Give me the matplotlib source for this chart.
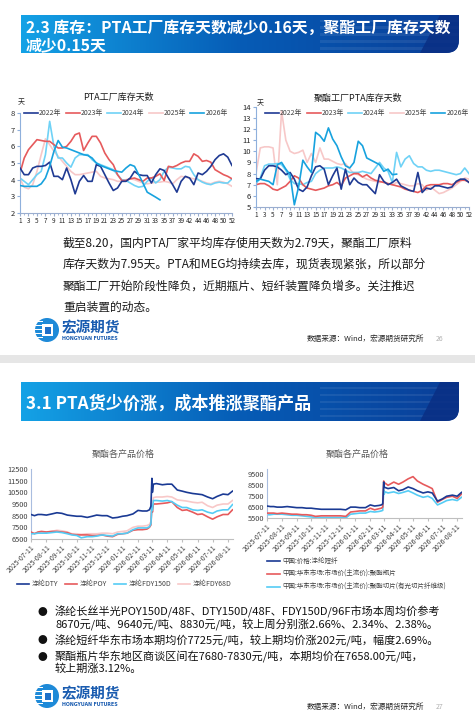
import numpy as np
import pandas as pd
import matplotlib
matplotlib.use("Agg")
import matplotlib.pyplot as plt
import matplotlib.dates as mdates
from matplotlib.path import Path
from matplotlib.patches import PathPatch, Rectangle, Circle, Polygon

plt.rcParams['font.family'] = ['Noto Sans CJK SC', 'DejaVu Sans']

# -----------------------------
# data: weekly inventory days
# -----------------------------
weeks = list(range(1, 41)) + list(range(42, 53))
years = ["2022年", "2023年", "2024年", "2025年", "2026年"]

pta_2022 = [4.7, 4.3, 4.3, 4.7, 4.8, 4.8, 4.85, 5.05, 4.2, 4.2,
            4.0, 4.7, 4.0, 3.15, 3.9, 4.25, 3.9, 3.9, 4.9, 4.8,
            4.3, 3.8, 3.35, 3.5, 3.9, 3.9, 4.1, 4.5, 4.3, 4.25,
            4.25, 3.8, 4.3, 4.65, 4.55, 4.1, 3.7, 3.25, 3.9, 4.2,
            4.1, 3.7, 4.4, 4.3, 4.5, 4.8, 5.2, 5.45, 5.55, 5.35, 4.85]
pta_2023 = [4.4, 5.3, 5.8, 6.1, 6.4, 6.35, 6.3, 6.3, 6.1, 5.9,
            5.9, 6.0, 6.3, 6.7, 6.8, 5.75, 6.2, 6.6, 6.6, 6.2,
            5.6, 5.2, 4.9, 4.3, 3.95, 3.95, 4.05, 4.1, 4.0, 3.9,
            4.1, 4.1, 4.2, 4.35, 3.95, 4.8, 4.75, 4.85, 5.0, 5.1,
            5.1, 5.55, 5.4, 5.1, 5.15, 5.05, 4.6, 4.45, 4.3, 4.2, 4.05]
pta_2024 = [4.1, 3.9, 3.7, 4.0, 4.3, 4.5, 5.5, 7.5, 6.0, 5.3,
            5.3, 5.0, 4.75, 5.3, 5.5, 5.5, 5.5, 5.2, 5.0, 4.9,
            4.8, 4.7, 4.6, 4.3, 4.0, 3.95, 3.8, 3.65, 3.55, 3.6,
            3.9, 4.1, 3.8, 4.0, 4.5, 4.75, 4.7, 4.65, 4.65, 4.8,
            4.75, 4.3, 4.0, 3.85, 3.75, 3.7, 3.8, 3.85, 3.8, 3.8, 4.05]
pta_2025 = [4.05, 3.55, 3.45, 3.7, 4.5, 5.5, 6.45, 6.1, 5.7, 5.4,
            5.1, 4.8, 4.5, 4.3, 4.3, 4.35, 4.4, 4.45, 4.5, 4.2,
            4.1, 4.05, 4.0, 3.9, 3.9, 4.0, 4.05, 4.0, 3.9, 3.8,
            3.75, 3.8, 3.85, 3.85, 3.9, 3.85, 3.75, 4.0, 4.2, 4.15,
            4.1, 4.05, 4.0, 3.9, 3.8, 3.75, 3.85, 3.9, 3.85, 3.75, 3.6]
pta_2026 = [3.65, 3.6, 3.6, 3.6, 3.6, 3.75, 4.1, 4.8, 5.7, 6.35,
            5.95, 5.9, 5.8, 5.7, 5.6, 5.5, 5.45, 5.3, 5.0, 4.85,
            4.75, 4.65, 4.55, 4.5, 4.45, 4.7, 4.9, 4.8, 4.3, 3.8,
            3.25, 3.1, 2.95, 2.79]

poly_2022 = [7.55, 7.5, 8.3, 8.7, 8.7, 8.6, 8.3, 7.9, 8.1, 7.5,
             6.6, 6.4, 6.8, 7.8, 8.6, 8.7, 8.4, 7.0, 7.8, 8.5,
             6.6, 8.4, 7.0, 7.6, 7.2, 7.0, 7.0, 6.6, 6.2, 7.9,
             7.3, 7.0, 7.2, 7.5, 6.9, 6.7, 6.5, 6.4, 8.1, 6.3,
             6.7, 6.6, 6.9, 6.9, 6.8, 6.7, 6.8, 7.3, 7.5, 7.5, 7.2]
poly_2023 = [7.0, 7.1, 7.1, 6.9, 6.6, 6.5, 6.7, 6.9, 7.3, 7.8,
             7.6, 7.0, 6.7, 6.6, 6.5, 6.6, 6.7, 6.9, 7.0, 7.2,
             6.9, 7.6, 7.8, 8.0, 8.0, 7.7, 7.9, 7.6, 7.4, 7.3,
             7.2, 7.1, 7.0, 6.9, 6.8, 6.6, 6.5, 6.4, 6.3, 6.5,
             6.9, 7.0, 7.0, 7.0, 7.1, 7.1, 7.0, 7.2, 7.4, 7.4, 7.25]
poly_2024 = [7.1, 7.6, 8.7, 8.85, 8.85, 8.9, 8.8, 8.3, 7.5, 7.1,
             7.1, 7.0, 7.2, 7.3, 8.0, 8.3, 8.5, 8.5, 8.5, 8.6,
             8.5, 8.3, 8.1, 8.1, 8.1, 8.2, 8.1, 8.0, 8.5, 9.0,
             8.5, 8.2, 7.2, 9.9, 8.6, 9.3, 9.6, 8.9, 8.6, 8.6,
             8.3, 8.2, 8.3, 8.3, 8.2, 8.1, 8.0, 7.9, 8.0, 8.5, 8.0]
poly_2025 = [8.0, 10.3, 10.4, 10.4, 10.3, 7.0, 13.6, 11.0, 10.0, 9.8,
             9.9, 10.1, 9.0, 9.8, 9.0, 10.3, 9.3, 9.3, 9.1, 8.9,
             8.8, 8.9, 8.4, 8.0, 7.9, 7.7, 7.5, 7.4, 7.3, 7.2,
             7.3, 7.1, 7.0, 7.2, 7.1, 7.0, 6.9, 6.9, 7.1, 7.0,
             6.5, 6.8, 6.5, 6.2, 6.3, 6.5, 6.7, 7.0, 7.3, 7.6, 7.5]
poly_2026 = [7.3, 7.5, 7.4, 7.3, 7.0, 8.8, 9.0, 8.4, 7.9, 5.2,
             6.8, 9.2, 8.6, 8.1, 11.7, 11.4, 10.9, 12.1, 11.1, 10.5,
             9.5, 8.7, 8.5, 9.0, 10.9, 10.5, 9.4, 9.2, 9.0, 8.8,
             8.2, 8.4, 7.9, 7.95]

# -----------------------------
# data: polyester prices
# -----------------------------
price_dates = pd.to_datetime([
    "2025-07-11", "2025-07-18", "2025-07-25", "2025-08-01", "2025-08-11",
    "2025-08-22", "2025-09-01", "2025-09-11", "2025-09-22", "2025-10-01",
    "2025-10-11", "2025-10-20", "2025-11-01", "2025-11-11", "2025-11-20",
    "2025-12-01", "2025-12-11", "2025-12-22", "2026-01-01", "2026-01-11",
    "2026-01-20", "2026-02-01", "2026-02-11", "2026-02-20", "2026-03-01",
    "2026-03-06", "2026-03-09", "2026-03-11", "2026-03-12", "2026-03-14",
    "2026-03-20", "2026-04-01", "2026-04-11", "2026-04-20", "2026-05-01",
    "2026-05-11", "2026-05-20", "2026-06-01", "2026-06-11", "2026-06-20",
    "2026-07-01", "2026-07-11", "2026-07-20", "2026-08-01", "2026-08-11",
    "2026-08-20"])

dty = [8600, 8500, 8600, 8600, 8550, 8650, 8750, 8700, 8550, 8500,
       8450, 8450, 8350, 8450, 8550, 8500, 8500, 8300, 8350, 8450,
       8500, 8650, 8950, 8900, 8900, 9000, 9300, 11700, 10500, 11200,
       11250, 11150, 11200, 11200, 10700, 10600, 10500, 10400, 10350, 10300,
       10100, 9950, 10150, 10350, 10300, 10600]
poy = [7100, 6950, 7100, 7150, 7100, 7150, 7150, 7100, 7050, 6900,
       6850, 6850, 6850, 6800, 6800, 6850, 6750, 6700, 6900, 6950,
       7000, 7250, 7300, 7300, 7350, 7500, 7700, 9300, 8800, 9500,
       9500, 9550, 9600, 9700, 9200, 8950, 9000, 8800, 8600, 8650,
       8400, 8200, 8400, 8600, 8600, 9000]
fdy150 = [6950, 6950, 7000, 7000, 7000, 7050, 7100, 7050, 6950, 6850,
          6800, 6600, 6700, 6700, 6750, 6850, 6800, 6750, 6950, 6950,
          7000, 7300, 7450, 7450, 7450, 7550, 7800, 9400, 9000, 9800,
          9800, 9750, 9800, 9700, 9400, 9200, 9200, 9000, 8950, 9000,
          8800, 8700, 8900, 9000, 9000, 9450]
fdy68 = [7000, 7000, 7050, 7100, 7100, 7150, 7250, 7200, 7100, 6950,
         6950, 6900, 6950, 6950, 6950, 7000, 7000, 6950, 7100, 7150,
         7200, 7500, 7600, 7600, 7650, 7750, 8000, 9800, 9400, 10050,
         10100, 10100, 10150, 10100, 9850, 9800, 9750, 9650, 9600, 9650,
         9350, 9200, 9400, 9500, 9500, 9800]

staple = [6600, 6550, 6550, 6500, 6500, 6550, 6500, 6450, 6450, 6400,
          6400, 6350, 6300, 6300, 6300, 6300, 6300, 6250, 6500, 6500,
          6450, 6450, 6700, 6600, 6650, 6700, 6800, 8800, 8300, 8300,
          8200, 8300, 8000, 8100, 8350, 8200, 8000, 7800, 7900, 7800,
          7050, 7250, 7500, 7600, 7500, 7850]
bottle = [5950, 5950, 5950, 5900, 5950, 5900, 5850, 5850, 5800, 5800,
          5750, 5650, 5700, 5700, 5700, 5700, 5700, 5650, 6050, 6100,
          6150, 6150, 6400, 6250, 6350, 6400, 6500, 8900, 8600, 8700,
          8500, 8800, 8600, 8800, 9100, 9300, 8900, 8600, 8400, 8200,
          6950, 7200, 7400, 7500, 7300, 7700]
chip = [5800, 5800, 5850, 5850, 5850, 5800, 5750, 5750, 5700, 5650,
        5600, 5550, 5550, 5550, 5550, 5550, 5550, 5500, 5850, 5900,
        5950, 5950, 6100, 6050, 6100, 6150, 6200, 8100, 7700, 7900,
        7800, 7900, 7750, 7850, 8000, 7800, 7600, 7400, 7500, 7300,
        6700, 6900, 7100, 7200, 7100, 7400]

# -----------------------------
# figure + pixel background axes
# -----------------------------
W, H = 475, 722
fig = plt.figure(figsize=(4.75, 7.22), dpi=100)
bg = fig.add_axes([0, 0, 1, 1])
bg.axis("off")


def ax_rect(x0, y0, x1, y1):
    return [x0 / W, 1 - y1 / H, (x1 - x0) / W, (y1 - y0) / H]


def banner(y0, y1, lines, fs, line_y):
    x0, x1, r = 21, 459, 13
    verts = [(x0, y0), (x1, y0), (x1, y1 - r), (x1, y1), (x1 - r, y1), (x0, y1), (x0, y0)]
    codes = [Path.MOVETO, Path.LINETO, Path.LINETO, Path.CURVE3, Path.CURVE3,
             Path.LINETO, Path.CLOSEPOLY]
    clip = PathPatch(Path(verts, codes), facecolor="none", edgecolor="none")
    bg.add_patch(clip)
    t = np.linspace(0, 1, 400)[:, None]
    c0 = np.array([0x14, 0xa2, 0xe6]) / 255
    c1 = np.array([0x06, 0x5c, 0xb6]) / 255
    c2 = np.array([0x0a, 0x3e, 0x98]) / 255
    grad = np.where(t < 0.5, c0 + (c1 - c0) * (t / 0.5), c1 + (c2 - c1) * ((t - 0.5) / 0.5))
    im = bg.imshow(grad[None, :, :], extent=(x0, x1, y1, y0), aspect="auto", zorder=1)
    im.set_clip_path(clip)
    # faint stripes on the right
    h = (y1 - y0)
    for k in range(5):
        yy = y0 + h * (0.12 + k * 0.18)
        p = Rectangle((320, yy), 140, h * 0.07, facecolor="white", alpha=0.08,
                      edgecolor="none", zorder=2)
        bg.add_patch(p)
        p.set_clip_path(clip)
    dark = Polygon([(440, y0), (460, y0), (460, y1), (420, y1)], closed=True,
                   facecolor="#0a2f84", edgecolor="none", alpha=0.85, zorder=2)
    bg.add_patch(dark)
    dark.set_clip_path(clip)
    for line, yy in zip(lines, line_y):
        bg.text(26, yy, line, color="white", fontsize=fs,
                fontweight="bold", va="center", ha="left", zorder=3)


def logo(x, y):
    # simple drawing of the company badge
    bg.add_patch(Circle((x + 12, y + 12), 12, facecolor="#1e8ad8", edgecolor="none", zorder=2))
    for k in range(5):
        bg.add_patch(Rectangle((x - 1, y + 3 + k * 4), 9, 1.3, facecolor="white",
                               edgecolor="none", zorder=3))
    bg.add_patch(Rectangle((x + 7, y + 6), 11, 12, facecolor="white", edgecolor="none", zorder=3))
    bg.add_patch(Rectangle((x + 9.5, y + 8.5), 6, 7, facecolor="#1e6fc8", edgecolor="none", zorder=4))
    bg.text(x + 27, y + 9, "宏源期货", color="#1a5cb0", fontsize=10.5, fontweight="bold",
            va="center", ha="left", zorder=3)
    bg.text(x + 27, y + 20, "HONGYUAN FUTURES", color="#1a5cb0", fontsize=3.4,
            fontweight="bold", va="center", ha="left", zorder=3, family="DejaVu Sans")


# -----------------------------
# slide 1
# -----------------------------
banner(15, 53, ["2.3 库存：PTA工厂库存天数减少0.16天，聚酯工厂库存天数", "减少0.15天"], 11.4,
       [28, 45])

paragraph = [
    "截至8.20，国内PTA厂家平均库存使用天数为2.79天，聚酯工厂原料",
    "库存天数为7.95天。PTA和MEG均持续去库，现货表现紧张，所以部分",
    "聚酯工厂开始阶段性降负，近期瓶片、短纤装置降负增多。关注推迟",
    "重启装置的动态。",
]
for i, line in enumerate(paragraph):
    bg.text(63, 243 + i * 21.5, line, fontsize=8.5, color="#1a1a1a", va="center", ha="left")

logo(35, 318)
bg.text(307, 339, "数据来源：Wind，宏源期货研究所", fontsize=5.5, color="#262626", va="center")
bg.text(436, 339, "26", fontsize=5, color="#b0b0b0", va="center")

bg.add_patch(Rectangle((0, 355), W, 8, facecolor="#e6e6e6", edgecolor="none"))

# -----------------------------
# slide 2
# -----------------------------
banner(382, 421, ["3.1 PTA货少价涨，成本推涨聚酯产品"], 12.3, [404])

bullets = [
    ["涤纶长丝半光POY150D/48F、DTY150D/48F、FDY150D/96F市场本周均价参考",
     "8670元/吨、9640元/吨、8830元/吨，较上周分别涨2.66%、2.34%、2.38%。"],
    ["涤纶短纤华东市场本期均价7725元/吨，较上期均价涨202元/吨，幅度2.69%。"],
    ["聚酯瓶片华东地区商谈区间在7680-7830元/吨，本期均价在7658.00元/吨，",
     "较上期涨3.12%。"],
]
yb = 612
for item in bullets:
    bg.text(42, yb, "●", fontsize=7, color="#111111", va="center", ha="center")
    for j, line in enumerate(item):
        bg.text(55, yb + j * 12, line, fontsize=8.0, color="#111111", va="center", ha="left")
    yb += 12 * len(item) + 4.5

logo(35, 684)
bg.text(307, 707, "数据来源：Wind，宏源期货研究所", fontsize=5.5, color="#262626", va="center")
bg.text(436, 707, "27", fontsize=5, color="#b0b0b0", va="center")

bg.set_xlim(0, W)
bg.set_ylim(H, 0)

# -----------------------------
# weekly inventory charts
# -----------------------------
year_colors = ["#1f3a93", "#e65a5c", "#6fd2f6", "#f7c8c8", "#17a2de"]
axis_col = "#8fb0dc"


def weekly_chart(rect, series, ylim, title, title_xy, unit_xy, leg_anchor):
    ax = fig.add_axes(rect)
    ax.set_facecolor("none")
    order = [3, 2, 1, 0, 4]
    for k in order:
        ax.plot(range(len(series[k])), series[k], color=year_colors[k], lw=1.2,
                label=years[k], zorder=2 + (k == 4) + (k == 0))
    ax.set_xlim(0, len(weeks) - 1)
    ax.set_ylim(*ylim)
    ax.set_yticks(np.arange(ylim[0], ylim[1] + 1, 1))
    ax.set_xticks(range(0, len(weeks), 2))
    ax.set_xticklabels([str(w) for w in weeks[::2]])
    ax.set_xticks(range(len(weeks)), minor=True)
    for s in ["top", "right"]:
        ax.spines[s].set_visible(False)
    ax.spines["left"].set_color(axis_col)
    ax.spines["bottom"].set_color("#9aaed0")
    ax.tick_params(axis="y", labelsize=5.5, length=2, color=axis_col, pad=1.5, labelcolor="#262626")
    ax.tick_params(axis="x", labelsize=4.6, length=2, color="#9aaed0", pad=1, labelcolor="#262626")
    ax.tick_params(axis="x", which="minor", length=1.5, color="#9aaed0")
    handles, labels = ax.get_legend_handles_labels()
    hmap = dict(zip(labels, handles))
    ax.legend([hmap[y] for y in years], years, loc="center", bbox_to_anchor=leg_anchor,
              ncol=5, frameon=False, fontsize=5, handlelength=2.0, handletextpad=0.15,
              columnspacing=0.6, labelcolor="#404040")
    bg.text(title_xy[0], title_xy[1], title, fontsize=6.5, color="#1a1a1a", ha="center", va="center")
    bg.text(unit_xy[0], unit_xy[1], "天", fontsize=5, color="#262626", ha="center", va="center")
    return ax


weekly_chart(ax_rect(20, 113, 232, 213),
             [pta_2022, pta_2023, pta_2024, pta_2025, pta_2026], (2, 8),
             "PTA工厂库存天数", (118, 97), (21, 102), ((126 - 20) / 212, 1.0))
weekly_chart(ax_rect(256, 106.7, 469, 207),
             [poly_2022, poly_2023, poly_2024, poly_2025, poly_2026], (5, 14),
             "聚酯工厂PTA库存天数", (358, 98), (260, 103), ((367 - 256) / 213, 0.934))

# -----------------------------
# price charts
# -----------------------------
month_ticks = pd.date_range("2025-07-11", "2026-08-11", freq=pd.DateOffset(months=1))


def price_axes(rect, ylim, yticks):
    ax = fig.add_axes(rect)
    ax.set_facecolor("none")
    ax.set_xlim(pd.Timestamp("2025-07-11"), pd.Timestamp("2026-08-21"))
    ax.set_ylim(*ylim)
    ax.set_yticks(yticks)
    ax.set_xticks(month_ticks)
    ax.xaxis.set_major_formatter(mdates.DateFormatter("%Y-%m-%d"))
    for s in ["top", "right"]:
        ax.spines[s].set_visible(False)
    ax.spines["left"].set_color("#a9bddf")
    ax.spines["bottom"].set_color("#bfbfbf")
    ax.tick_params(axis="y", labelsize=5.3, length=0, pad=2, labelcolor="#404040")
    ax.tick_params(axis="x", labelsize=5, length=2, color="#bfbfbf", pad=1, labelcolor="#404040")
    for lab in ax.get_xticklabels():
        lab.set_rotation(45)
        lab.set_ha("right")
        lab.set_rotation_mode("anchor")
    return ax


ax3 = price_axes(ax_rect(31, 469, 233, 539), (6500, 12500), np.arange(6500, 12501, 1000))
ax3.plot(price_dates, dty, color="#1a3a94", lw=1.2, label="涤纶DTY", zorder=4)
ax3.plot(price_dates, poy, color="#e65a5c", lw=1.2, label="涤纶POY", zorder=3)
ax3.plot(price_dates, fdy150, color="#55ccf5", lw=1.2, label="涤纶FDY150D", zorder=3)
ax3.plot(price_dates, fdy68, color="#f8c8c8", lw=1.2, label="涤纶FDY68D", zorder=2)
ax3.legend(loc="center", bbox_to_anchor=((124 - 31) / 202, -45 / 70), ncol=4, frameon=False,
           fontsize=5.0, handlelength=1.8, handletextpad=0.3, columnspacing=1.0,
           labelcolor="#404040")
bg.text(123, 454, "聚酯各产品价格", fontsize=6.5, color="#595959", ha="center", va="center")

ax4 = price_axes(ax_rect(267, 469, 462, 518), (5500, 10000), np.arange(5500, 9501, 1000))
ax4.plot(price_dates, staple, color="#1a3a94", lw=1.2, label="中国:价格:涤纶短纤", zorder=4)
ax4.plot(price_dates, bottle, color="#e65a5c", lw=1.2, label="中国:华东市场:市场价(主流价):聚酯瓶片", zorder=3)
ax4.plot(price_dates, chip, color="#55ccf5", lw=1.2,
         label="中国:华东市场:市场价(主流价):聚酯切片(有光切片纤维级)", zorder=2)
ax4.legend(loc="upper left", bbox_to_anchor=(0, (518 - 557) / 49), ncol=1, frameon=False,
           fontsize=4.7, handlelength=2.0, handletextpad=0.4, labelspacing=0.75,
           borderaxespad=0, borderpad=0, labelcolor="#404040")
bg.text(357, 454, "聚酯各产品价格", fontsize=6.5, color="#595959", ha="center", va="center")

fig.savefig("out.png", dpi=100)
